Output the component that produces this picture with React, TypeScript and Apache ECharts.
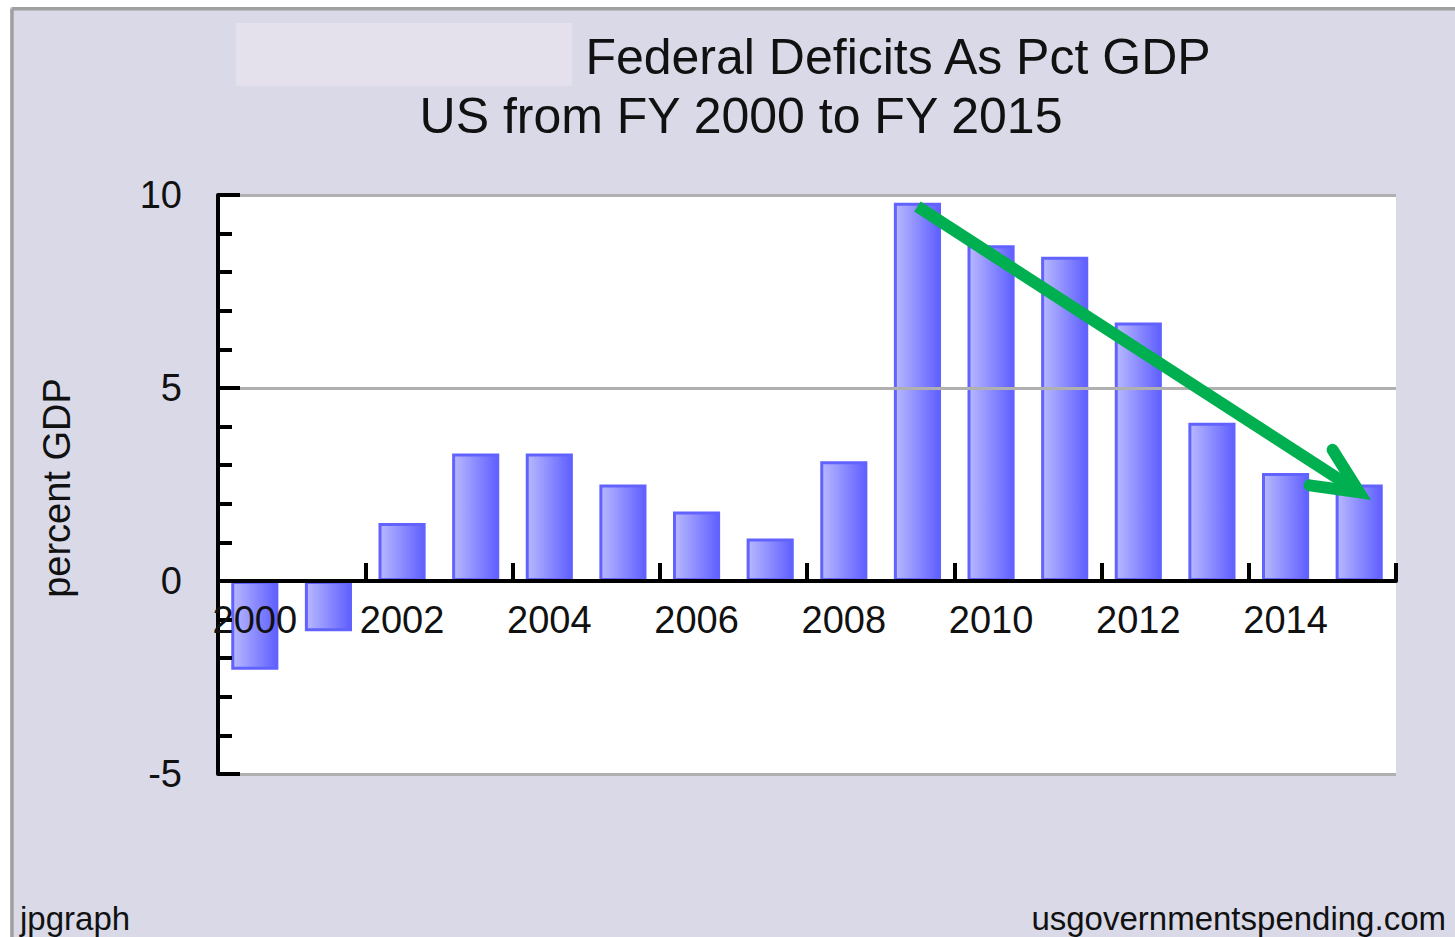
import React, { useEffect, useRef } from "react";
import * as echarts from "echarts";

// ---- data ----
const years = [
  "2000", "2001", "2002", "2003", "2004", "2005", "2006", "2007",
  "2008", "2009", "2010", "2011", "2012", "2013", "2014", "2015",
];
const deficitPct = [-2.3, -1.3, 1.5, 3.3, 3.3, 2.5, 1.8, 1.1, 3.1, 9.8, 8.7, 8.4, 6.7, 4.1, 2.8, 2.5];
const yMin = -5;
const yMax = 10;
const yInterval = 5;
const titleText = "Federal Deficits As Pct GDP";
const subtitleText = "US from FY 2000 to FY 2015";
const yAxisName = "percent GDP";
const leftCredit = "jpgraph";
const rightCredit = "usgovernmentspending.com";
// trend arrow annotation (data coordinates)
const arrowFrom: [string, number] = ["2009", 9.7];
const arrowTo: [string, number] = ["2015", 2.3];

const FONT = "Liberation Sans";
const PANEL = "#d9d9e8";
const GRID = { left: 218, right: 59, top: 195, bottom: 163 };
const CHART_H = 937;

export default function App() {
  const ref = useRef<HTMLDivElement>(null);

  useEffect(() => {
    if (!ref.current) return;
    const chart = echarts.init(ref.current, undefined, { renderer: "svg" });

    // move the category axis (line, ticks, labels) up to the value 0 line
    const gridH = CHART_H - GRID.top - GRID.bottom;
    const zeroOffset = -(gridH * (0 - yMin)) / (yMax - yMin);

    const staticGraphics: any[] = [
      { type: "rect", shape: { x: 0, y: 0, width: 10, height: 937 }, style: { fill: "#fff" }, silent: true },
      { type: "rect", shape: { x: 0, y: 0, width: 1455, height: 7 }, style: { fill: "#fff" }, silent: true },
      { type: "line", shape: { x1: 12, y1: 8.8, x2: 1455, y2: 8.8 }, style: { stroke: "#a0a0a0", lineWidth: 3.5 }, silent: true },
      { type: "line", shape: { x1: 12, y1: 8.8, x2: 12, y2: 937 }, style: { stroke: "#a0a0a0", lineWidth: 3.5 }, silent: true },
      { type: "rect", shape: { x: 236, y: 23, width: 336, height: 63 }, style: { fill: "#e4e0ec" }, silent: true },
      {
        type: "text", x: 898, y: 57,
        style: { text: titleText, fontSize: 50, fontFamily: FONT, fill: "#111", align: "center", verticalAlign: "middle" },
      },
      {
        type: "text", x: 741, y: 116,
        style: { text: subtitleText, fontSize: 50, fontFamily: FONT, fill: "#111", align: "center", verticalAlign: "middle" },
      },
      {
        type: "text", x: 57, y: 488, rotation: Math.PI / 2,
        style: { text: yAxisName, fontSize: 38, fontFamily: FONT, fill: "#111", align: "center", verticalAlign: "middle" },
      },
      {
        type: "text", x: 20, y: 918,
        style: { text: leftCredit, fontSize: 33, fontFamily: FONT, fill: "#111", align: "left", verticalAlign: "middle" },
      },
      {
        type: "text", x: 1446, y: 918,
        style: { text: rightCredit, fontSize: 33, fontFamily: FONT, fill: "#111", align: "right", verticalAlign: "middle" },
      },
    ];

    chart.setOption({
      animation: false,
      backgroundColor: PANEL,
      grid: {
        ...GRID,
        show: true, backgroundColor: "#ffffff", borderWidth: 0,
      },
      xAxis: {
        type: "category",
        data: years,
        z: 5,
        offset: zeroOffset,
        axisLine: { onZero: false, lineStyle: { color: "#000", width: 4 } },
        axisTick: { show: true, inside: true, interval: 1, length: 18, lineStyle: { color: "#000", width: 4 } },
        axisLabel: { interval: 1, margin: 20, fontSize: 38, fontFamily: FONT, color: "#111" },
        splitLine: { show: false },
      },
      yAxis: {
        type: "value",
        min: yMin, max: yMax, interval: yInterval,
        z: 5,
        axisLine: { show: true, onZero: false, lineStyle: { color: "#000", width: 4 } },
        axisTick: { show: true, inside: true, length: 22, lineStyle: { color: "#000", width: 4 } },
        minorTick: { show: true, splitNumber: 5, length: 14, lineStyle: { color: "#000", width: 4 } },
        axisLabel: { margin: 36, fontSize: 38, fontFamily: FONT, color: "#111" },
        splitLine: { show: true, lineStyle: { color: "#b0b0b0", width: 3 } },
      },
      series: [
        {
          type: "bar",
          data: deficitPct,
          barWidth: "64%",
          itemStyle: {
            color: new echarts.graphic.LinearGradient(0, 0, 1, 0, [
              { offset: 0, color: "#b8b8ff" },
              { offset: 1, color: "#6060ff" },
            ]),
            borderColor: "#6262ff",
            borderWidth: 3,
          },
        },
      ],
      graphic: staticGraphics,
    });

    const p1 = chart.convertToPixel({ gridIndex: 0 }, arrowFrom as any) as number[];
    const p2 = chart.convertToPixel({ gridIndex: 0 }, arrowTo as any) as number[];
    const back = Math.atan2(p1[1] - p2[1], p1[0] - p2[0]);
    const armLen = 50;
    const spread = (25 * Math.PI) / 180;
    const armA = [p2[0] + armLen * Math.cos(back + spread), p2[1] + armLen * Math.sin(back + spread)];
    const armB = [p2[0] + armLen * Math.cos(back - spread), p2[1] + armLen * Math.sin(back - spread)];

    chart.setOption({
      graphic: [
        ...staticGraphics,
        {
          type: "polyline", z: 100, silent: true,
          shape: { points: [p1, p2] },
          style: { stroke: "#00b050", lineWidth: 12, lineCap: "butt", fill: "none" },
        },
        {
          type: "polyline", z: 100, silent: true,
          shape: { points: [armA, p2, armB] },
          style: { stroke: "#00b050", lineWidth: 12, lineCap: "round", lineJoin: "miter", fill: "none" },
        },
      ],
    });

    return () => chart.dispose();
  }, []);

  return (
    <div
      ref={ref}
      style={{ position: "fixed", left: 0, top: 0, width: 1455, height: 937 }}
    />
  );
}
